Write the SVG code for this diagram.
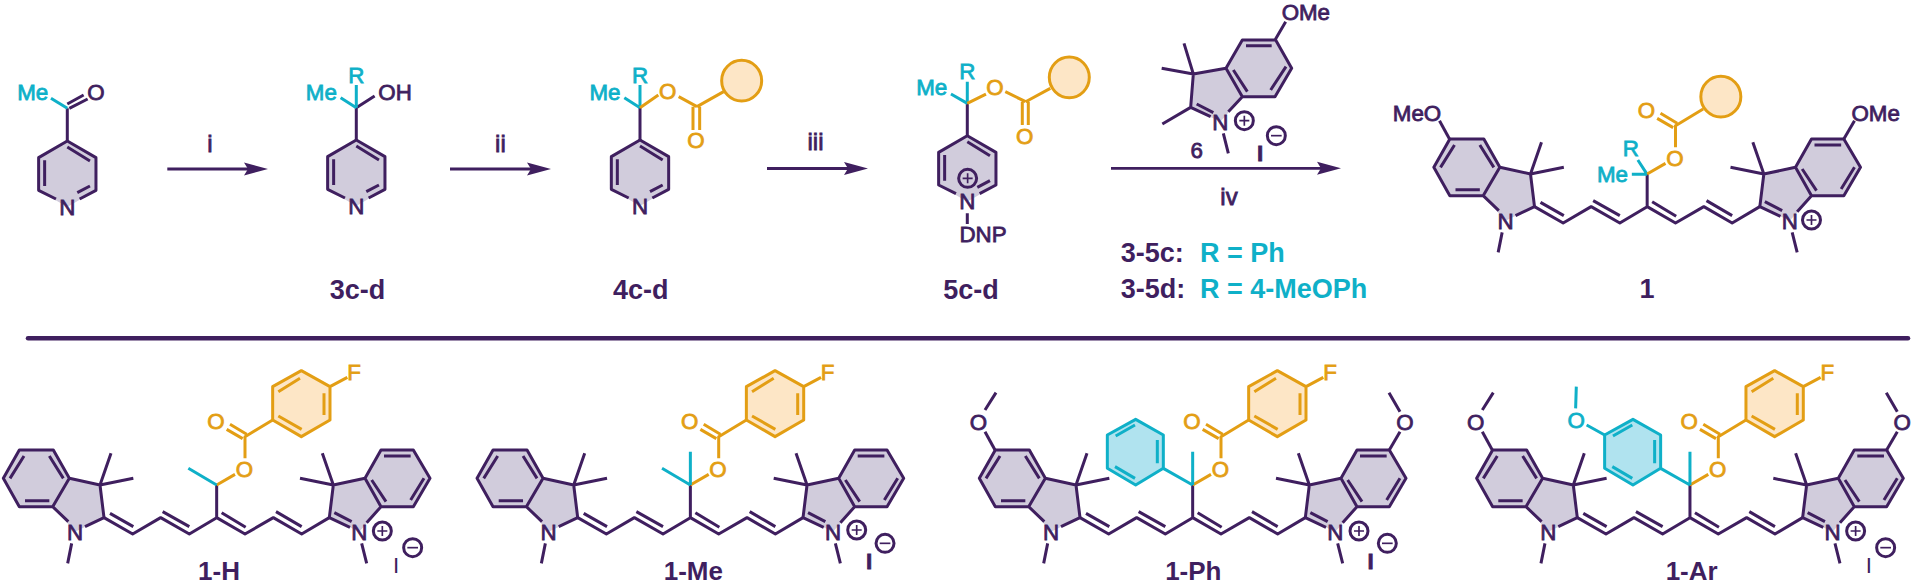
<svg xmlns="http://www.w3.org/2000/svg" xmlns:xlink="http://www.w3.org/1999/xlink" width="1914" height="584" viewBox="0 0 1914 584">
<style>
.d{fill:none;stroke:#3f1f5f;stroke-width:9;stroke-linecap:butt;stroke-linejoin:round}
.c{fill:none;stroke:#0fb0c8;stroke-width:9;stroke-linejoin:round}
.o{fill:none;stroke:#e39e14;stroke-width:9;stroke-linejoin:round}
.thin{fill:none;stroke:#3f1f5f;stroke-width:5}
.fd{fill:#d1ccdc}.fo{fill:#fde6c6}.fc{fill:#b0e3ef}
text{font-family:"Liberation Sans",Arial,sans-serif;font-size:67px}
.td{fill:#3f1f5f;stroke:#3f1f5f;stroke-width:2.4}.tc{fill:#0fb0c8;stroke:#0fb0c8;stroke-width:2.4}.to{fill:#e39e14;stroke:#e39e14;stroke-width:2.4}
.m{text-anchor:middle}.e{text-anchor:end}
.big{font-weight:700;font-size:78px;fill:#3f1f5f;text-anchor:middle}
.lab{font-weight:700;font-size:27px;fill:#3f1f5f}
.rg{font-size:24px;fill:#3f1f5f;stroke:#3f1f5f;stroke-width:.8;text-anchor:middle}
.b{font-weight:700}
.slim{stroke-width:0}
</style>
<defs>
<marker id="head" markerUnits="userSpaceOnUse" markerWidth="26" markerHeight="16" refX="4" refY="7" orient="auto" overflow="visible"><path d="M0 0.5L24 7L0 13.5L4 7Z" fill="#3f1f5f"/></marker>
<g id="plus"><circle r="27" class="d" fill="none"/><path class="thin" d="M-15 0H15M0 -15V15"/></g>
<g id="minus"><circle r="27" class="d"/><path class="thin" d="M-16 0H16"/></g>
<g id="core">
<path class="fd" d="M58 360H160L208 445L300 465L312 563L225 605L158 530H58L10 445Z"/>
<path class="fd" d="M1143 360H1240L1290 445L1240 530H1143L1078 605L988 563L1000 465L1095 445Z"/>
<path class="d" d="M205 575L158 530H58L10 445L58 360H160L208 445L158 530M208 445L300 465L312 563L255 590M300 465L333 370M300 465L400 445M215 640L203 700"/>
<path class="d" d="M30 445L72 378M148 378L190 445M75 512H148"/>
<path class="d" d="M312 563L398 612L482 563L568 612L650 563L735 612L820 563L905 612L988 563M330 550L400 590M488 545L568 590M665 548L737 592M828 545L905 590M650 563V465"/>
<path class="d" d="M1050 592L988 563L1000 465L1095 445L1143 360H1240L1290 445L1240 530H1143L1095 445M1143 530L1100 578M1003 548L1055 575M1000 465L967 370M1000 465L900 445M1085 640L1100 700"/>
<path class="d" d="M1152 378H1232M1232 510L1272 445M1115 450L1158 515"/>
</g>
<g id="ome-l"><path class="d" d="M57 360L27 305"/></g>
<g id="ome-r"><path class="d" d="M1240 360L1272 305"/></g>
<g id="ome-me"><path class="d" d="M27 240L60 188M1272 245L1239 188"/></g>
<g id="acyl"><path class="o" d="M650 465L705 433M735 385V320L818 270M680 298L728 326M690 283L740 313"/></g>
<g id="fbenz">
<path class="fo" d="M818 270V170L904 122L990 170V270L904 320Z"/>
<path class="o" d="M818 270V170L904 122L990 170V270L904 320ZM835 185L900 145M972 190V255M835 258L905 298M990 170L1042 142"/>
</g>
<g id="pyr">
<path class="fd" d="M0 0L86 50V148L0 198L-86 148V50Z"/>
<path class="d" d="M-34 174L-86 148V50L0 0L86 50V148L37 174M0 18L68 60M-68 58V135M30 155L68 135"/>
</g>
<g id="cph">
<path class="fc" d="M562 415V315L479 268L394 315V415L479 465Z"/>
<path class="c" d="M562 415V315L479 268L394 315V415L479 465ZM544 330V400M419 318L477 285M417 410L477 445M650 465L562 415M650 465V365"/>
</g>
</defs>

<g id="connectors">
<path class="arrow" d="M167.3 169H248" stroke="#3f1f5f" stroke-width="2.8" fill="none" marker-end="url(#head)"/>
<path class="arrow" d="M450 169H531" stroke="#3f1f5f" stroke-width="2.8" fill="none" marker-end="url(#head)"/>
<path class="arrow" d="M767 168.500H848" stroke="#3f1f5f" stroke-width="2.8" fill="none" marker-end="url(#head)"/>
<path class="arrow" d="M1111 168.300H1321" stroke="#3f1f5f" stroke-width="2.8" fill="none" marker-end="url(#head)"/>
<path d="M28 338.300H1908" stroke="#3f1f5f" stroke-width="4.500" stroke-linecap="round" fill="none"/>
</g>

<g id="labels-arrows">
<text class="rg" x="209.800" y="151.700">i</text>
<text class="rg" x="500.400" y="151.700">ii</text>
<text class="rg" x="815.500" y="150">iii</text>
<text class="rg" x="1229" y="205">iv</text>
</g>

<g id="mol-2" transform="translate(67.300,141) scale(.33333)">
<use href="#pyr"/>
<path class="d" d="M0 0V-98M6 -98L61 -126M0 -111L49 -138"/>
<path class="c" d="M0 -98L-49 -128"/>
<text class="td m" x="0" y="221">N</text>
<text class="td m" x="86" y="-122">O</text>
<text class="tc m" x="-104" y="-122">Me</text>
</g>

<g id="mol-3" transform="translate(356.300,140) scale(.33333)">
<use href="#pyr"/>
<path class="d" d="M0 0V-97M0 -97L55 -132"/>
<path class="c" d="M0 -97L-47 -127M0 -97V-165"/>
<text class="td m" x="0" y="221">N</text>
<text class="tc m" x="-105" y="-121">Me</text>
<text class="tc m" x="0" y="-171">R</text>
<text class="td" x="66" y="-121">OH</text>
</g>
<text id="label-3" class="lab" x="357.500" y="299" text-anchor="middle">3c-d</text>

<g id="mol-4" transform="translate(640,140) scale(.33333)">
<use href="#pyr"/>
<path class="d" d="M0 0V-97"/>
<path class="c" d="M0 -97L-47 -127M0 -97V-165"/>
<path class="o" d="M0 -97L55 -135M116 -130L171 -100M159 -100V-30M179 -100V-30M171 -100L251 -145"/>
<ellipse class="fo" cx="305" cy="-178" rx="60" ry="61"/>
<ellipse class="o" cx="305" cy="-178" rx="60" ry="61"/>
<text class="td m" x="0" y="221">N</text>
<text class="tc m" x="-105" y="-121">Me</text>
<text class="tc m" x="0" y="-171">R</text>
<text class="to m" x="83" y="-124">O</text>
<text class="to m" x="168" y="24">O</text>
</g>
<text id="label-4" class="lab" x="640.800" y="299" text-anchor="middle">4c-d</text>

<g id="mol-5" transform="translate(967.300,135.700) scale(.33333)">
<use href="#pyr"/>
<path class="d" d="M0 0V-97M0 233V265"/>
<path class="c" d="M0 -97L-49 -125M0 -97V-162"/>
<path class="o" d="M0 -97L56 -125M114 -132L175 -102M165 -102V-32M183 -102V-32M175 -102L249 -142"/>
<ellipse class="fo" cx="306" cy="-175" rx="60" ry="61"/>
<ellipse class="o" cx="306" cy="-175" rx="60" ry="61"/>
<use href="#plus" x="1" y="128"/>
<text class="td m" x="0" y="221">N</text>
<text class="td m" x="47" y="320">DNP</text>
<text class="tc m" x="-107" y="-121">Me</text>
<text class="tc m" x="0" y="-170">R</text>
<text class="to m" x="83" y="-121">O</text>
<text class="to m" x="172" y="25">O</text>
</g>
<text id="label-5" class="lab" x="971" y="299" text-anchor="middle">5c-d</text>

<g id="mol-6" transform="translate(1000,0) scale(.33333)">
<path class="fd" d="M727 120H827L875 205L825 290H727L661 365L572 322L580 222L678 205Z"/>
<path class="d" d="M685 335L727 290H825L875 205L827 120H727L678 205L727 290M678 205L580 222L572 322L632 350M590 312L640 338M580 222L552 130M580 222L485 205M572 322L487 372M670 400L685 460M825 120L857 65M738 137H815M812 270L858 200M700 210L742 275"/>
<use href="#plus" x="733" y="362"/>
<use href="#minus" x="829" y="407"/>
<text class="td m" x="661" y="389">N</text>
<text class="td" x="845" y="59">OMe</text>
<text class="td m" x="590" y="473">6</text>
<text class="td m b" x="780" y="483">I</text>
</g>

<g id="legend">
<text class="lab" x="1120.700" y="261.700">3-5c:</text>
<text class="lab" x="1200" y="261.700" style="fill:#0fb0c8">R = Ph</text>
<text class="lab" x="1120.700" y="298.300">3-5d:</text>
<text class="lab" x="1200" y="298.300" style="fill:#0fb0c8">R = 4-MeOPh</text>
</g>

<g id="dye-1" transform="translate(1430.500,19) scale(.33333)">
<use href="#core"/><use href="#ome-l"/><use href="#ome-r"/>
<path class="c" d="M622 423L650 466M604 466H650"/>
<use href="#acyl"/>
<ellipse class="fo" cx="871" cy="233" rx="60" ry="61"/>
<ellipse class="o" cx="871" cy="233" rx="60" ry="61"/>
<use href="#plus" x="1143" y="603"/>
<text class="td m" x="225" y="629">N</text>
<text class="td m" x="1078" y="629">N</text>
<text class="td e" x="32" y="305">MeO</text>
<text class="td" x="1263" y="305">OMe</text>
<text class="tc m" x="601" y="410">R</text>
<text class="tc m" x="546" y="490">Me</text>
<text class="to m" x="733" y="442">O</text>
<text class="to m" x="648" y="296">O</text>
</g>
<text id="label-1" class="lab" x="1647" y="298" text-anchor="middle">1</text>

<g id="dye-1-H" transform="translate(0,330) scale(.33333)">
<use href="#core"/><use href="#acyl"/><use href="#fbenz"/>
<path class="c" d="M650 465L565 415"/>
<use href="#plus" x="1147" y="603"/><use href="#minus" x="1238" y="653"/>
<text class="td m" x="225" y="629">N</text><text class="td m" x="1078" y="629">N</text>
<text class="to m" x="733" y="442">O</text><text class="to m" x="648" y="296">O</text><text class="to m" x="1062" y="149">F</text>
<text class="td m slim" x="1188" y="730">I</text>
<text class="big" x="657" y="750">1-H</text>
</g>

<g id="dye-1-Me" transform="translate(473.700,330) scale(.33333)">
<use href="#core"/><use href="#acyl"/><use href="#fbenz"/>
<path class="c" d="M650 465L565 415M650 465V365"/>
<use href="#plus" x="1149" y="600"/><use href="#minus" x="1234" y="640"/>
<text class="td m" x="225" y="629">N</text><text class="td m" x="1078" y="629">N</text>
<text class="to m" x="733" y="442">O</text><text class="to m" x="648" y="296">O</text><text class="to m" x="1062" y="149">F</text>
<text class="td m b" x="1186" y="716">I</text>
<text class="big" x="659" y="750">1-Me</text>
</g>

<g id="dye-1-Ph" transform="translate(976,330) scale(.33333)">
<use href="#core"/><use href="#ome-l"/><use href="#ome-r"/><use href="#ome-me"/><use href="#acyl"/><use href="#fbenz"/><use href="#cph"/>
<use href="#plus" x="1149" y="603"/><use href="#minus" x="1234" y="640"/>
<text class="td m" x="225" y="629">N</text><text class="td m" x="1078" y="629">N</text>
<text class="to m" x="733" y="442">O</text><text class="to m" x="648" y="296">O</text><text class="to m" x="1062" y="149">F</text>
<text class="td m" x="7" y="299">O</text><text class="td m" x="1287" y="299">O</text>
<text class="td m b" x="1184" y="716">I</text>
<text class="big" x="652" y="750">1-Ph</text>
</g>

<g id="dye-1-Ar" transform="translate(1473.300,330) scale(.33333)">
<use href="#core"/><use href="#ome-l"/><use href="#ome-r"/><use href="#ome-me"/><use href="#acyl"/><use href="#fbenz"/><use href="#cph"/>
<path class="c" d="M394 315L340 285M307 235L309 170"/>
<use href="#plus" x="1147" y="603"/><use href="#minus" x="1237" y="653"/>
<text class="td m" x="225" y="629">N</text><text class="td m" x="1078" y="629">N</text>
<text class="to m" x="733" y="442">O</text><text class="to m" x="648" y="296">O</text><text class="to m" x="1062" y="149">F</text>
<text class="td m" x="7" y="299">O</text><text class="td m" x="1287" y="299">O</text>
<text class="tc m" x="309" y="294">O</text>
<text class="td m slim" x="1187" y="730">I</text>
<text class="big" x="655" y="750">1-Ar</text>
</g>
</svg>
